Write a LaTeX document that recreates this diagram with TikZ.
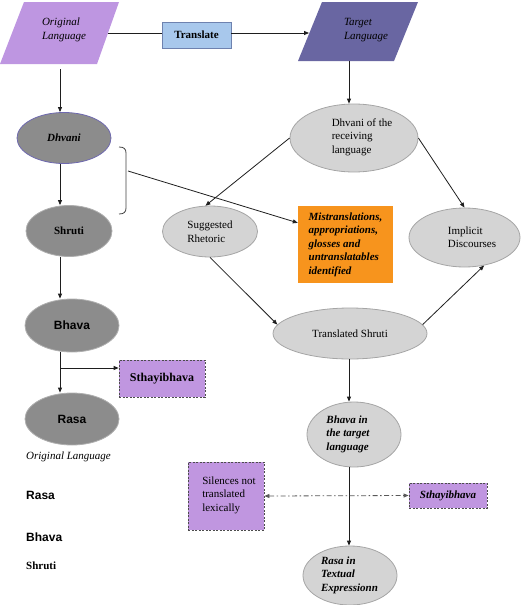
\documentclass[tikz,border=0pt]{standalone}
\usepackage{fontspec}
\setmainfont{Liberation Serif}
\newfontfamily\arialf{Liberation Sans}
\usetikzlibrary{shapes.geometric,arrows.meta,calc}
\definecolor{olfill}{RGB}{190,150,225}
\definecolor{tlfill}{RGB}{105,102,162}
\definecolor{trfill}{RGB}{168,200,236}
\definecolor{trdraw}{RGB}{110,130,175}
\definecolor{pbox}{RGB}{192,150,224}
\definecolor{orng}{RGB}{247,148,29}
\definecolor{dgray}{RGB}{140,140,140}
\definecolor{dgedge}{RGB}{175,175,175}
\definecolor{lgray}{RGB}{212,212,212}
\definecolor{lgedge}{RGB}{165,165,165}
\definecolor{dvedge}{RGB}{110,105,175}
\definecolor{lnc}{RGB}{30,30,30}
\tikzset{
  base/.style={font=\fontsize{11}{13.5}\selectfont, inner sep=0pt, text=black},
  darkell/.style={base, ellipse, fill=dgray, draw=dgedge, line width=0.8pt},
  lightell/.style={base, ellipse, fill=lgray, draw=lgedge, line width=0.8pt},
  purplebox/.style={base, rectangle, fill=pbox, draw=black!70, line width=0.8pt, dash pattern=on 2pt off 1.5pt},
  conn/.style={draw=lnc, line width=0.8pt},
  arr/.style={conn, -{Triangle[length=5pt,width=4pt]}},
}
\begin{document}
\begin{tikzpicture}[x=1pt,y=-1pt]
\useasboundingbox (0,0) rectangle (522,605);

% parallelograms
\fill[olfill] (24,2) -- (119,2) -- (97,64) -- (0,64) -- cycle;
\node[base, align=left, font=\fontsize{11}{13.5}\selectfont\itshape] (olT) at (64,30) {Original\\Language};
\fill[tlfill] (322,2) -- (418,2) -- (394,61) -- (298,61) -- cycle;
\node[base, align=left, font=\fontsize{11}{13.5}\selectfont\itshape] (tlT) at (366,30) {Target\\Language};
\coordinate (olR) at (108,33);
\coordinate (tlL) at (309,33);
\coordinate (olB) at (60,69);
\coordinate (tlB) at (349,61);

% translate
\node[base, rectangle, fill=trfill, draw=trdraw, line width=0.8pt, minimum width=69pt, minimum height=26pt, font=\fontsize{11}{13.5}\selectfont\bfseries] (tr) at (196.5,35) {Translate};

% left column
\node[darkell, draw=dvedge, minimum width=94pt, minimum height=51pt, font=\fontsize{11}{13.5}\selectfont\bfseries\itshape] (dh) at (64,138) {Dhvani};
\node[darkell, minimum width=86pt, minimum height=51pt, font=\fontsize{11}{13.5}\selectfont\bfseries] (sh) at (69,231) {Shruti};
\node[darkell, minimum width=94pt, minimum height=53pt, font=\fontsize{12}{14}\selectfont\arialf\bfseries] (bh) at (72,325.5) {Bhava};
\node[darkell, minimum width=94pt, minimum height=52pt, font=\fontsize{12}{14}\selectfont\arialf\bfseries] (ra) at (72,419) {Rasa};
\node[purplebox, minimum width=86pt, minimum height=37pt, font=\fontsize{12}{14}\selectfont\bfseries] (st1) at (162,378.5) {Sthayibhava};
\coordinate (br) at (60,368);

% bottom-left labels
\node[base, anchor=west, font=\fontsize{11}{13.5}\selectfont\itshape] (lbO) at (26,457) {Original Language};
\node[base, anchor=west, font=\fontsize{12}{14}\selectfont\arialf\bfseries] (lbR) at (26,495) {Rasa};
\node[base, anchor=west, font=\fontsize{12}{14}\selectfont\arialf\bfseries] (lbB) at (26,537) {Bhava};
\node[base, anchor=west, font=\fontsize{11}{13.5}\selectfont\bfseries] (lbS) at (26,566) {Shruti};

% bracket
\draw[draw=black!75, line width=0.8pt] (119,147) .. controls (124,147) and (126,149) .. (126,153) -- (126,208) .. controls (126,212) and (124,214) .. (119,214);
\coordinate (brk) at (128,171);

% right column
\node[lightell, minimum width=128pt, minimum height=68pt] (dr) at (354,138) {};
\node[base, align=left] (drT) at (362,137) {Dhvani of the\\receiving\\language};
\node[lightell, minimum width=95pt, minimum height=51pt, align=left] (sr) at (210,231.5) {Suggested\\Rhetoric};
\node[lightell, minimum width=111pt, minimum height=59pt] (id) at (464.5,237.5) {};
\node[base, align=left] (idT) at (472,237) {Implicit\\Discourses};
\node[base, rectangle, fill=orng, minimum width=95pt, minimum height=77pt, align=left, font=\fontsize{11}{13.5}\selectfont\bfseries\itshape] (mi) at (345.5,244.5) {Mistranslations,\\appropriations,\\glosses and\\untranslatables\\identified};
\node[lightell, minimum width=154pt, minimum height=51pt] (ts) at (350,333.5) {Translated Shruti};
\node[lightell, minimum width=94pt, minimum height=65pt] (bt) at (354,434.5) {};
\node[base, align=left, font=\fontsize{11}{13.5}\selectfont\bfseries\itshape] (btT) at (348,434) {Bhava in\\the target\\language};
\node[lightell, minimum width=94pt, minimum height=59pt] (rt) at (350,575.5) {};
\node[base, align=left, font=\fontsize{11}{13.5}\selectfont\bfseries\itshape] (rtT) at (349.5,575) {Rasa in\\Textual\\Expressionn};
\node[purplebox, minimum width=76pt, minimum height=68pt] (si) at (226,496) {};
\node[base, align=left] (siT) at (229,495) {Silences not\\translated\\lexically};
\node[purplebox, minimum width=78pt, minimum height=25pt, font=\fontsize{11}{13.5}\selectfont\bfseries\itshape] (st2) at (448,495.5) {Sthayibhava};

% connectors
\draw[conn] (olR) -- (olR -| tr.west);
\draw[arr] (olR -| tr.east) -- (tlL);
\draw[arr] (olB) -- (olB |- dh.north);
\draw[arr] (olB |- dh.south) -- (olB |- sh.north);
\draw[arr] (olB |- sh.south) -- (olB |- bh.north);
\draw[arr] (olB |- bh.south) -- (olB |- ra.north);
\draw[arr] (br) -- (br -| st1.west);
\draw[arr] (brk) -- ($(mi.north west)!0.22!(mi.south west)$);
\draw[arr] (tlB) -- (tlB |- dr.north);
\draw[arr] (dr.west) -- (sr.100);
\draw[arr] (dr.east) -- (id.north);
\draw[arr] (sr.south) -- (ts.173);
\draw[arr] (ts.7) -- (id.-55);
\draw[arr] (tlB |- ts.south) -- (tlB |- bt.north);
\draw[arr] (tlB |- bt.south) -- (tlB |- rt.north);
\draw[conn, draw=black!65, dash pattern=on 5pt off 2.5pt on 1.5pt off 2.5pt, {Triangle[length=5pt,width=4pt]}-{Triangle[length=5pt,width=4pt]}] (si.east) -- (st2.west);
\end{tikzpicture}
\end{document}
